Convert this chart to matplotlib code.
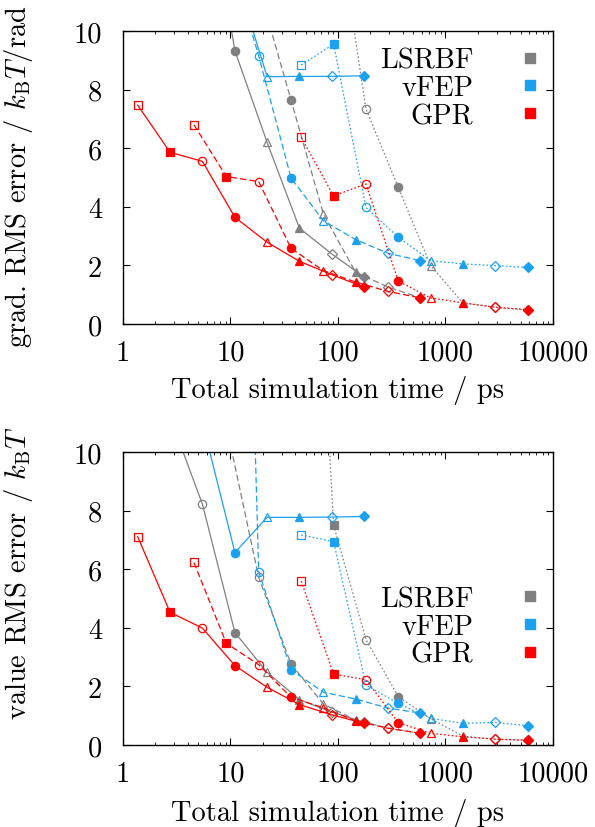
import numpy as np
import matplotlib
matplotlib.use("Agg")
import matplotlib.pyplot as plt
from matplotlib.lines import Line2D

plt.rcParams['font.family'] = 'cmr10'
plt.rcParams['mathtext.fontset'] = 'cm'
plt.rcParams['axes.unicode_minus'] = False

# simulation times (ps) for the three run sets
t_solid = [1.37, 2.74, 5.48, 11.0, 21.9, 43.8, 87.7, 175]
t_dashed = [4.57, 9.15, 18.3, 36.6, 73.2, 146, 293, 585]
t_dotted = [45.5, 91, 182, 364, 728, 1456, 2912, 5824]

# gradient RMS error (top panel)
lsrbf_grad_solid = [30, 22, 15.9, 9.32, 6.2, 3.27, 2.39, 1.6]
lsrbf_grad_dashed = [25, 18, 11.5, 7.64, 3.75, 1.76, 1.26, 0.89]
lsrbf_grad_dotted = [25, 14.7, 7.34, 4.66, 1.99, 0.72, 0.57, 0.47]
vfep_grad_solid = [30, 25, 18, 12.0, 8.44, 8.45, 8.45, 8.47]
vfep_grad_dashed = [20, 12.9, 9.15, 4.98, 3.52, 2.88, 2.41, 2.16]
vfep_grad_dotted = [8.84, 9.55, 3.98, 2.96, 2.16, 2.05, 1.99, 1.93]
gpr_grad_solid = [7.47, 5.86, 5.55, 3.64, 2.79, 2.14, 1.68, 1.26]
gpr_grad_dashed = [6.8, 5.03, 4.86, 2.58, 1.82, 1.43, 1.11, 0.89]
gpr_grad_dotted = [6.37, 4.37, 4.78, 1.46, 0.89, 0.72, 0.57, 0.49]

# value RMS error (bottom panel)
lsrbf_val_solid = [25, 11.2, 8.22, 3.84, 2.48, 1.55, 1.12, 0.78]
lsrbf_val_dashed = [20, 10.9, 5.72, 2.76, 1.4, 0.85, 0.58, 0.40]
lsrbf_val_dotted = [28, 7.5, 3.6, 1.65, 0.9, 0.3, 0.2, 0.17]
vfep_val_solid = [30, 20, 11.0, 6.57, 7.77, 7.77, 7.78, 7.8]
vfep_val_dashed = [60, 45, 5.92, 2.57, 1.8, 1.57, 1.26, 1.09]
vfep_val_dotted = [7.17, 6.94, 2.05, 1.42, 0.91, 0.74, 0.77, 0.66]
gpr_val_solid = [7.11, 4.53, 3.99, 2.71, 1.97, 1.38, 1.03, 0.74]
gpr_val_dashed = [6.23, 3.47, 2.74, 1.63, 1.27, 0.82, 0.57, 0.40]
gpr_val_dotted = [5.59, 2.42, 2.23, 0.76, 0.40, 0.28, 0.2, 0.16]

methods = ["LSRBF", "vFEP", "GPR"]
colors = ["#808080", "#1ca0f0", "#ff0000"]

# marker for each of the 8 points: (shape, filled)
point_markers = [("s", False), ("s", True), ("o", False), ("o", True),
                 ("^", False), ("^", True), ("D", False), ("D", True)]
dash_styles = {"solid": "-", "dashed": (0, (5, 2.5)), "dotted": (0, (1.3, 1.8))}

grad_data = [
    [lsrbf_grad_solid, lsrbf_grad_dashed, lsrbf_grad_dotted],
    [vfep_grad_solid, vfep_grad_dashed, vfep_grad_dotted],
    [gpr_grad_solid, gpr_grad_dashed, gpr_grad_dotted],
]
val_data = [
    [lsrbf_val_solid, lsrbf_val_dashed, lsrbf_val_dotted],
    [vfep_val_solid, vfep_val_dashed, vfep_val_dotted],
    [gpr_val_solid, gpr_val_dashed, gpr_val_dotted],
]
times = [t_solid, t_dashed, t_dotted]
styles = ["solid", "dashed", "dotted"]

FS = 20.5

def draw_panel(ax, data, ylabel, label_y, xlabel_y, legend_y):
    for m, col in enumerate(colors):
        for k in range(3):
            t = times[k]
            v = data[m][k]
            ax.plot(t, v, linestyle=dash_styles[styles[k]], color=col, lw=0.9)
            for i, (mk, filled) in enumerate(point_markers):
                ms = 6 if mk in ("s", "o") else 5.5
                ax.plot(t[i], v[i], marker=mk, ms=ms, color=col, mew=0.9,
                        mfc=col if filled else "none", linestyle="none")
    ax.set_xscale("log")
    ax.set_xlim(1, 10000)
    ax.set_ylim(0, 10)
    ax.set_xticks([1, 10, 100, 1000, 10000])
    ax.set_xticklabels(["1", "10", "100", "1000", "10000"])
    ax.set_yticks([0, 2, 4, 6, 8, 10])
    ax.set_yticklabels(["0", "2", "4", "6", "8", "10"])
    ax.tick_params(which="both", direction="in", top=True, right=True, labelsize=FS)
    ax.tick_params(axis="x", which="major", length=5, pad=11)
    ax.tick_params(axis="x", which="minor", length=2.5)
    ax.tick_params(axis="y", which="major", length=5, pad=15)
    ax.tick_params(axis="y", which="minor", length=0)
    for s in ax.spines.values():
        s.set_linewidth(1.0)
    ax.set_xlabel("Total simulation time / ps", fontsize=FS, va="center")
    ax.xaxis.set_label_coords(0.5, xlabel_y)
    ax.set_ylabel(ylabel, fontsize=FS)
    ax.yaxis.set_label_coords(-0.205, label_y)

    handles = [Line2D([], [], marker="s", color=c, linestyle="none", ms=7) for c in colors]
    ax.legend(handles, methods, loc="center right", bbox_to_anchor=(0.98, legend_y),
              frameon=False, markerfirst=False, fontsize=FS, handlelength=1,
              handletextpad=1.5, labelspacing=0.05, borderpad=0, borderaxespad=0)


fig = plt.figure(figsize=(5.95, 8.28), dpi=100)
ax1 = fig.add_axes([0.2067, 0.6075, 0.7227, 0.3539])
ax2 = fig.add_axes([0.2067, 0.0990, 0.7227, 0.3539])

draw_panel(ax1, grad_data, r"grad. RMS error / $k_\mathrm{B}T$/rad", 0.505, -0.225, 0.805)
draw_panel(ax2, val_data, r"value RMS error / $k_\mathrm{B}T$", 0.59, -0.23, 0.403)

fig.savefig("out.png", dpi=100)
